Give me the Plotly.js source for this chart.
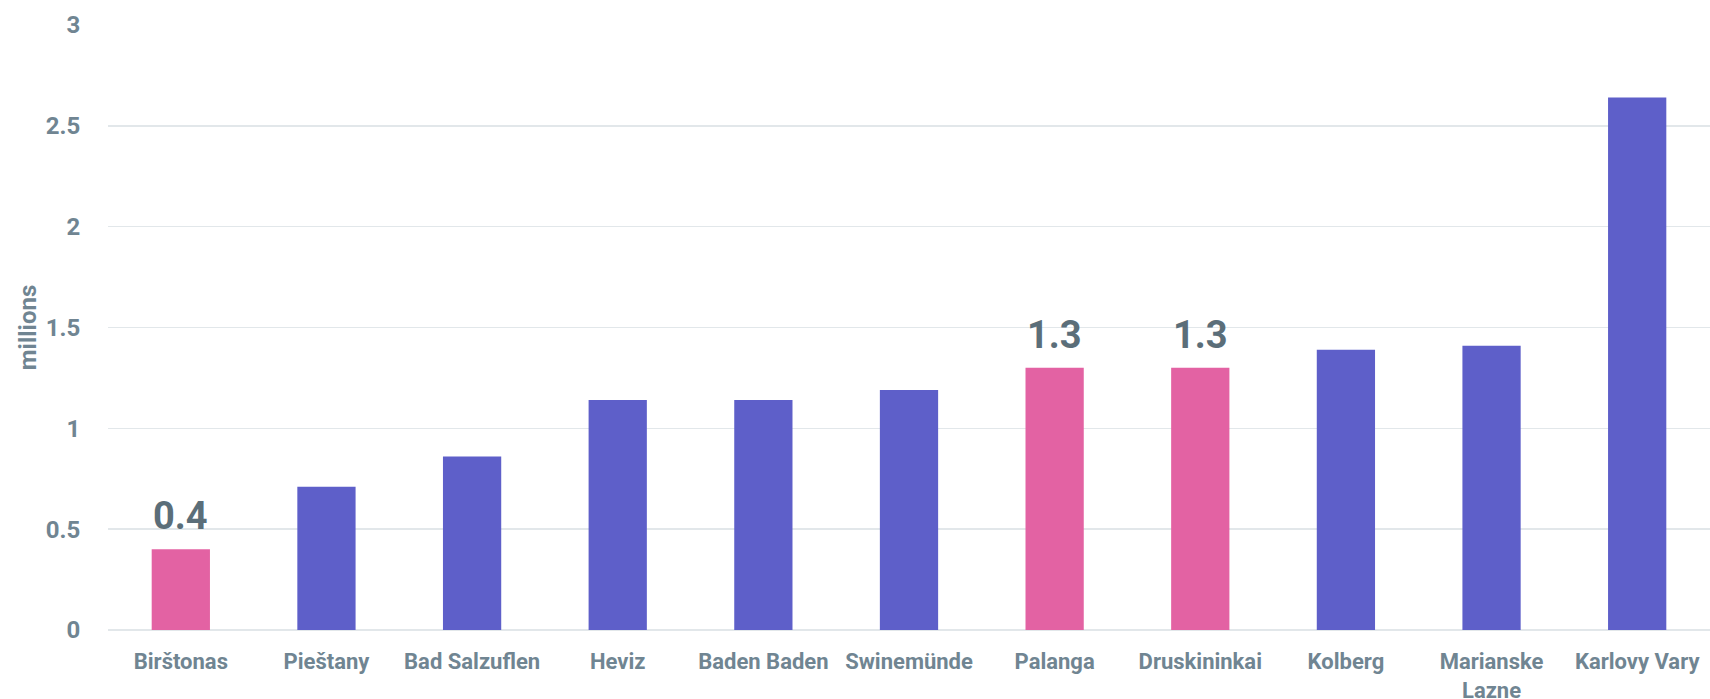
<!DOCTYPE html>
<html>
<head>
<meta charset="utf-8">
<script src="https://cdn.plot.ly/plotly-3.0.1.min.js"></script>
<style>html,body{margin:0;padding:0;background:#fff;}#chart{width:1710px;height:699px;}</style>
</head>
<body>
<div id="chart"></div>
<script>
const categories = ["Birštonas","Pieštany","Bad Salzuflen","Heviz","Baden Baden","Swinemünde","Palanga","Druskininkai","Kolberg","Marianske<br>Lazne","Karlovy Vary"];
const values = [0.40, 0.71, 0.86, 1.14, 1.14, 1.19, 1.30, 1.30, 1.39, 1.41, 2.64];
const highlighted = [true, false, false, false, false, false, true, true, false, false, false];
const yTickVals = [0, 0.5, 1, 1.5, 2, 2.5, 3];
const yTickText = ["0", "0.5", "1", "1.5", "2", "2.5", "3"];

const PINK = "#E362A3", BLUE = "#5E5FC9";
const colors = highlighted.map(h => h ? PINK : BLUE);

const trace = {
  type: "bar",
  x: categories,
  y: values,
  marker: {color: colors, line: {width: 0}},
  hoverinfo: "x+y"
};

const annotations = [];
values.forEach((v, i) => {
  if (!highlighted[i]) return;
  annotations.push({
    x: categories[i], y: v, xref: "x", yref: "y",
    text: v.toFixed(1), showarrow: false,
    yanchor: "bottom", yshift: 9,
    font: {family: "Roboto", size: 38, color: "#5B6E79", weight: 700}
  });
});

const layout = {
  width: 1710, height: 699,
  margin: {l: 108, r: 0, t: 25, b: 69},
  paper_bgcolor: "#fff", plot_bgcolor: "#fff",
  font: {family: "Roboto", color: "#708592"},
  bargap: 0.6,
  showlegend: false,
  annotations: annotations,
  xaxis: {
    type: "category",
    tickfont: {family: "Roboto", size: 22, color: "#708592", weight: 700},
    ticks: "outside", ticklen: 12, tickcolor: "rgba(0,0,0,0)",
    showgrid: false, zeroline: false, showline: false,
    fixedrange: true
  },
  yaxis: {
    range: [0, 3],
    tickvals: yTickVals, ticktext: yTickText,
    tickfont: {family: "Roboto", size: 24, color: "#708592", weight: 700},
    ticks: "outside", ticklen: 22, tickcolor: "rgba(0,0,0,0)",
    showgrid: true, gridcolor: "#E2E7EA", gridwidth: 1.5,
    zeroline: true, zerolinecolor: "#E2E7EA", zerolinewidth: 1.5,
    showline: false,
    title: {text: "millions", font: {family: "Roboto", size: 24, color: "#708592", weight: 700}, standoff: 2},
    fixedrange: true
  }
};

Plotly.newPlot("chart", [trace], layout, {displayModeBar: false, staticPlot: true});
</script>
</body>
</html>
